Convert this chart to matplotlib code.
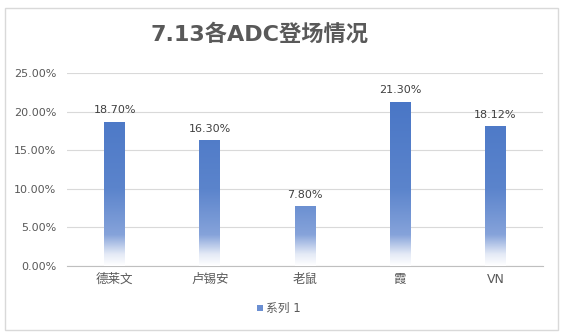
import numpy as np
import matplotlib.pyplot as plt
from matplotlib.colors import LinearSegmentedColormap
from matplotlib.patches import Rectangle

plt.rcParams['font.family'] = ['DejaVu Sans', 'Noto Sans CJK SC']

# 数据
heroes = ['德莱文', '卢锡安', '老鼠', '霞', 'VN']
rates = [18.70, 16.30, 7.80, 21.30, 18.12]
series_name = '系列 1'

fig = plt.figure(figsize=(5.64, 3.36), dpi=100)
ax = fig.add_axes([0.119, 0.208, 0.844, 0.575])

# 外框
fig.patches.append(Rectangle((0.009, 0.018), 0.98, 0.958, transform=fig.transFigure,
                             fill=False, edgecolor='#d9d9d9', linewidth=1))

x = np.arange(len(heroes))
bars = ax.bar(x, rates, width=0.22, color='#4472C4', zorder=2)

# 渐变: 底部渐白 (按绝对高度)
cmap = LinearSegmentedColormap.from_list(
    'grad', [(0, '#ffffff'), (0.06, '#e4eaf6'), (0.16, '#86a3da'),
             (0.4, '#5b84cc'), (1, '#4472C4')])
grad = np.linspace(0, 1, 256).reshape(-1, 1)
for b in bars:
    bx, bw, bh = b.get_x(), b.get_width(), b.get_height()
    im = ax.imshow(grad, cmap=cmap, origin='lower', aspect='auto',
                   extent=[bx, bx + bw, 0, 25], zorder=3)
    im.set_clip_path(b)
    ax.text(bx + bw / 2, bh + 0.8, f'{bh:.2f}%', ha='center', va='bottom',
            fontsize=8, color='#404040')

ax.set_xlim(-0.5, len(heroes) - 0.5)
ax.set_ylim(0, 25)
ax.set_yticks(np.arange(0, 26, 5))
ax.set_yticklabels([f'{v:.2f}%' for v in np.arange(0, 26, 5)])
ax.set_xticks(x)
ax.set_xticklabels(heroes)
ax.tick_params(length=0, labelsize=8, labelcolor='#595959')
ax.tick_params(axis='x', labelsize=9, pad=5)
ax.tick_params(axis='y', pad=8)
ax.grid(axis='y', color='#d9d9d9', linewidth=0.8, zorder=0)
for s in ['top', 'right', 'left']:
    ax.spines[s].set_visible(False)
ax.spines['bottom'].set_color('#bfbfbf')

fig.text(0.46, 0.9, '7.13各ADC登场情况', ha='center', va='center',
         fontsize=16, fontweight='bold', color='#595959')

# 图例
fig.patches.append(Rectangle((0.455, 0.075), 0.011, 0.018, transform=fig.transFigure,
                             facecolor='#6b8fd2', edgecolor='none'))
fig.text(0.472, 0.083, series_name, ha='left', va='center', fontsize=8.5, color='#595959')

fig.savefig('out.png', dpi=100)
